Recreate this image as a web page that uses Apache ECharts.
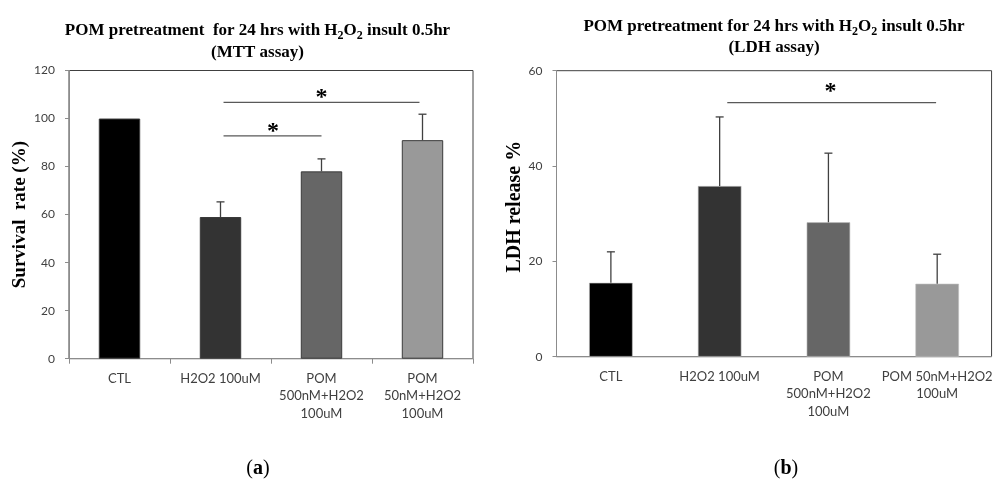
<!DOCTYPE html>
<html><head><meta charset="utf-8">
<script src="https://cdn.jsdelivr.net/npm/echarts@6/dist/echarts.min.js"></script>
<style>html,body{margin:0;padding:0;background:#fff}#c{width:995px;height:484px}</style>
</head><body><div id="c"></div>
<script>
// ---- data ----
const categoriesA = ['CTL', 'H2O2 100uM', 'POM\n500nM+H2O2\n100uM', 'POM\n50nM+H2O2\n100uM'];
const mttValues = [100, 59, 78, 91];
const mttErrors = [0, 6.3, 5.2, 10.8];
const categoriesB = ['CTL', 'H2O2 100uM', 'POM\n500nM+H2O2\n100uM', 'POM 50nM+H2O2\n100uM'];
const ldhValues = [15.5, 35.8, 28.2, 15.3];
const ldhErrors = [6.5, 14.5, 14.5, 6.2];
const barColors = ['#000000', '#333333', '#666666', '#999999'];
// significance brackets: [fromIndex, toIndex, lineValue, starIndex, starValue]
const sigA = [[1.03, 2.97, 106.7, 2.0, 110.7], [1.03, 2.0, 92.8, 1.52, 96.5]];
const sigB = [[1.07, 2.99, 53.3, 2.02, 56.6]];
const yTicksA = { min: 0, max: 120, interval: 20 };
const yTicksB = { min: 0, max: 60, interval: 20 };

const labelFont = 'Lato';
const serif = '"Liberation Serif", "Times New Roman", serif';

function errRender(params, api) {
  const x = api.value(0), v = api.value(1), e = api.value(2);
  if (!e) return;
  const p0 = api.coord([x, v]);
  const p1 = api.coord([x, v + e]);
  const style = { stroke: '#404040', lineWidth: 1.3 };
  return { type: 'group', children: [
    { type: 'line', shape: { x1: p0[0], y1: p0[1], x2: p1[0], y2: p1[1] }, style },
    { type: 'line', shape: { x1: p1[0] - 4, y1: p1[1], x2: p1[0] + 4, y2: p1[1] }, style }
  ]};
}
function sigRender(params, api) {
  const a = api.coord([api.value(0), api.value(2)]);
  const b = api.coord([api.value(1), api.value(2)]);
  const s = api.coord([api.value(3), api.value(4)]);
  return { type: 'group', children: [
    { type: 'line', shape: { x1: a[0], y1: a[1], x2: b[0], y2: b[1] }, style: { stroke: '#595959', lineWidth: 1.2 } },
    { type: 'text', x: s[0], y: s[1] + 5, style: { text: '*', fill: '#000', font: 'bold 24px ' + serif, align: 'center', verticalAlign: 'middle' } }
  ]};
}

function catAxis(cats, grid, ticks) {
  return {
    type: 'category', gridIndex: grid, data: cats, boundaryGap: true,
    axisLine: { show: true, onZero: false, lineStyle: { color: '#8c8c8c', width: 1 } },
    axisTick: { show: ticks, alignWithLabel: false, length: 5, lineStyle: { color: '#8c8c8c' } },
    axisLabel: { interval: 0, color: '#404040', fontFamily: labelFont, fontSize: 13, lineHeight: 17.5, margin: 11 }
  };
}
function valAxis(t, grid, name, gap, fs, pad) {
  return {
    type: 'value', gridIndex: grid, min: t.min, max: t.max, interval: t.interval,
    name: name, nameLocation: 'middle', nameGap: gap, nameRotate: 90,
    nameTextStyle: { fontFamily: serif, fontWeight: 'bold', fontSize: fs, color: '#000', padding: pad },
    axisLine: { show: true, onZero: false, lineStyle: { color: '#8c8c8c', width: 1 } },
    axisTick: { show: true, length: 4, lineStyle: { color: '#8c8c8c' } },
    splitLine: { show: false },
    axisLabel: { color: '#404040', fontFamily: labelFont, fontSize: 12, margin: 14 }
  };
}
function hiddenX(grid) {
  return { type: 'value', gridIndex: grid, min: -0.5, max: 3.5, show: false, axisLine: { onZero: false } };
}

const subRich = {
  s: { fontFamily: serif, fontWeight: 'bold', fontSize: 12, verticalAlign: 'bottom', lineHeight: 23, fill: '#000' }
};

const option = {
  animation: false,
  backgroundColor: '#fff',
  grid: [
    { left: 69, top: 70.5, width: 404, height: 288.2, show: true, borderColor: '#404040', borderWidth: 1, backgroundColor: 'transparent' },
    { left: 556.5, top: 70.7, width: 440, height: 286, show: true, borderColor: '#404040', borderWidth: 1, backgroundColor: 'transparent' }
  ],
  xAxis: [catAxis(categoriesA, 0, true), catAxis(categoriesB, 1, false), hiddenX(0), hiddenX(1)],
  yAxis: [valAxis(yTicksA, 0, 'Survival  rate (%)', 39, 19, 0), valAxis(yTicksB, 1, 'LDH release %', 31, 20, [0, 0, 0, 14])],
  series: [
    { type: 'bar', xAxisIndex: 0, yAxisIndex: 0, barWidth: '41%',
      data: mttValues.map((v, i) => ({ value: v, itemStyle: { color: barColors[i], borderColor: '#3a3a3a', borderWidth: 1 } })) },
    { type: 'bar', xAxisIndex: 1, yAxisIndex: 1, barWidth: '40%',
      data: ldhValues.map((v, i) => ({ value: v, itemStyle: { color: barColors[i], borderColor: '#bdbdbd', borderWidth: 0.6 } })) },
    { type: 'custom', xAxisIndex: 0, yAxisIndex: 0, renderItem: errRender, z: 5,
      data: mttValues.map((v, i) => [i, v, mttErrors[i]]) },
    { type: 'custom', xAxisIndex: 1, yAxisIndex: 1, renderItem: errRender, z: 5,
      data: ldhValues.map((v, i) => [i, v, ldhErrors[i]]) },
    { type: 'custom', xAxisIndex: 2, yAxisIndex: 0, renderItem: sigRender, z: 6, clip: false, data: sigA },
    { type: 'custom', xAxisIndex: 3, yAxisIndex: 1, renderItem: sigRender, z: 6, clip: false, data: sigB }
  ],
  graphic: [
    { type: 'text', x: 257.5, y: 19, style: {
      text: 'POM pretreatment  for 24 hrs with H{s|2}O{s|2} insult 0.5hr\n(MTT assay)',
      font: 'bold 17px ' + serif, fill: '#000', align: 'center', lineHeight: 21, rich: subRich } },
    { type: 'text', x: 774, y: 15, style: {
      text: 'POM pretreatment for 24 hrs with H{s|2}O{s|2} insult 0.5hr\n(LDH assay)',
      font: 'bold 17px ' + serif, fill: '#000', align: 'center', lineHeight: 19, rich: subRich } },
    { type: 'text', x: 258, y: 459, style: { text: '({b|a})', font: '20px ' + serif, fill: '#000', align: 'center',
      rich: { b: { fontFamily: serif, fontWeight: 'bold', fontSize: 20 } } } },
    { type: 'text', x: 786, y: 459, style: { text: '({b|b})', font: '20px ' + serif, fill: '#000', align: 'center',
      rich: { b: { fontFamily: serif, fontWeight: 'bold', fontSize: 20 } } } }
  ]
};
const chart = echarts.init(document.getElementById('c'));
chart.setOption(option);
</script>
</body></html>
